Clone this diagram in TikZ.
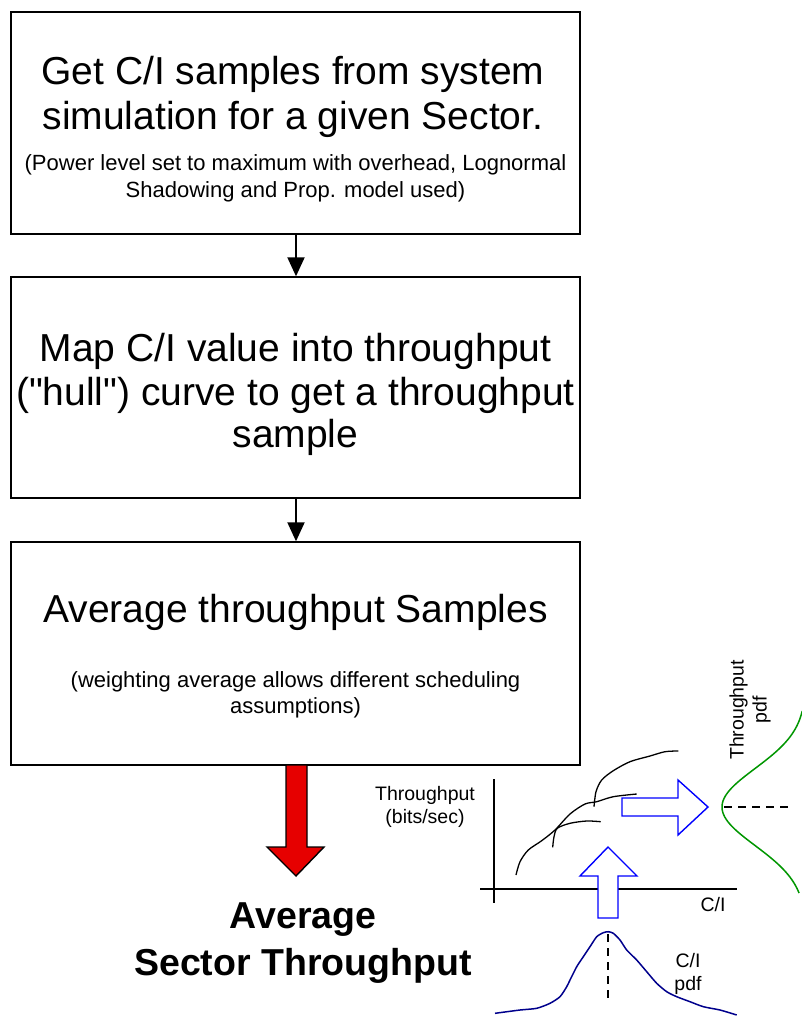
\documentclass[tikz,border=0pt]{standalone}
\usepackage{fontspec}
\setmainfont{Liberation Sans}[Ligatures=TeXOff]
\usetikzlibrary{arrows.meta}
\definecolor{pdfblue}{RGB}{0,0,140}
\definecolor{pdfgreen}{RGB}{0,150,0}
\definecolor{arrred}{RGB}{230,0,0}
\tikzset{
  stepbox/.style={draw=black, line width=1.4pt, minimum width=569pt, inner sep=0pt},
  bigtxt/.style={font=\fontsize{39}{45}\selectfont, align=center, anchor=base},
  smalltxt/.style={font=\fontsize{22}{26}\selectfont, align=center, anchor=base},
  lbl/.style={font=\fontsize{19.5}{23}\selectfont, align=center, inner sep=0pt},
  flowarrow/.style={line width=2pt, -{Triangle[width=17pt,length=19pt]}},
  hollow/.style={draw=blue, line width=1.4pt, fill=white, line join=miter},
  hull/.style={line width=1.3pt, line join=round},
  axis/.style={line width=1.5pt},
  dashline/.style={line width=1.3pt, dash pattern=on 8pt off 6pt},
}
\begin{document}
\begin{tikzpicture}[x=1pt,y=-1pt]
\useasboundingbox (0,0) rectangle (801,1019);
% boxes
\node[stepbox, minimum height=222pt] (b1) at (295.5,123) {};
\node[stepbox, minimum height=221pt] (b2) at (295.5,387.5) {};
\node[stepbox, minimum height=223pt] (b3) at (295.5,653.5) {};
% texts box 1
\node[bigtxt] (t1a) at (293,85) {Get C/I samples from system};
\node[bigtxt] (t1b) at (293,130) {simulation for a given Sector.};
\node[smalltxt] (t1c) at (295.5,171) {(Power level set to maximum with overhead, Lognormal};
\node[smalltxt] (t1d) at (295.5,197) {Shadowing and Prop. model used)};
% texts box 2
\node[bigtxt] (t2a) at (295.5,361) {Map C/I value into throughput};
\node[bigtxt] (t2b) at (295.5,405) {("hull") curve to get a throughput};
\node[bigtxt] (t2c) at (295.5,447) {sample};
% texts box 3
\node[bigtxt] (t3a) at (295.5,622) {Average throughput Samples};
\node[smalltxt] (t3b) at (295.5,687) {(weighting average allows different scheduling};
\node[smalltxt] (t3c) at (295.5,713) {assumptions)};
% flow arrows
\draw[flowarrow] (b1.south -| 296,0) -- (b2.north -| 296,0);
\draw[flowarrow] (b2.south -| 296,0) -- (b3.north -| 296,0);
% red arrow
\draw[fill=arrred, line width=1.4pt, line join=miter]
  (286,765) -- (307,765) -- (307,847) -- (324,847) -- (296,876) -- (267,847) -- (286,847) -- cycle;
% result text
\node[font=\fontsize{37.5}{46}\bfseries\selectfont, align=center, anchor=base] (res1) at (303,928) {Average};
\node[font=\fontsize{37.5}{46}\bfseries\selectfont, align=center, anchor=base] (res2) at (303,975) {Sector Throughput};
% axes
\draw[axis] (494,779) -- (494,903);
\draw[axis] (480,889) -- (737,889);
\node[lbl] (ci) at (713,905) {C/I};
\node[lbl] (tp) at (425,807) {Throughput\\(bits/sec)};
% hull curves
\draw[hull] plot[smooth, tension=0.5] coordinates {(516,875) (520,861.7) (528.3,850) (541.7,840.7) (555,830) (570,814) (585,804) (596.7,801.7) (613.3,796.7) (636.7,794)};
\draw[hull] plot[smooth, tension=0.5] coordinates {(552.7,847.3) (554,836.7) (557.3,828.3) (570,823.3) (586.7,821) (600.7,821.7)};
\draw[hull] plot[smooth, tension=0.5] coordinates {(594,806.7) (596,791.7) (601.7,780) (613.3,770.7) (630,761.7) (650,756) (665,751.7) (678.3,751)};
% hollow arrows
\draw[hollow] (622,798) -- (678,798) -- (678,780) -- (708,807) -- (678,835) -- (678,816) -- (622,816) -- cycle;
\draw[hollow] (598,918) -- (598,876) -- (580,876) -- (608,847) -- (637,876) -- (618,876) -- (618,918) -- cycle;
% throughput pdf (green)
\draw[pdfgreen, line width=1.5pt] plot[domain=711:893, samples=80, variable=\t] ({806-84*exp(-(\t-807)*(\t-807)/2968)}, \t);
\draw[dashline] (724,807) -- (792,807);
\node[lbl, rotate=90] (tpdf) at (750,710) {Throughput\\pdf};
% C/I pdf (blue)
\draw[pdfblue, line width=1.5pt] plot[smooth, tension=0.4] coordinates {(495,1013.3) (520,1010) (536.7,1008.3) (550,1003.3) (560,996.7) (566.7,986.7) (570,980) (576.7,966.7) (583.3,956.7) (590,946.7) (596.7,936.7) (603.3,932.7) (608.3,931.7) (613.3,933.3) (620,940) (626.7,950) (636.7,960) (646.7,971.7) (656.7,983.3) (666.7,991.7) (676.7,996.7) (690,1001.7) (703.3,1006.7) (720,1010) (736.7,1015)};
\draw[dashline] (608,934) -- (608,1000);
\node[lbl] (cipdf) at (688,974) {C/I\\pdf};
\end{tikzpicture}
\end{document}
